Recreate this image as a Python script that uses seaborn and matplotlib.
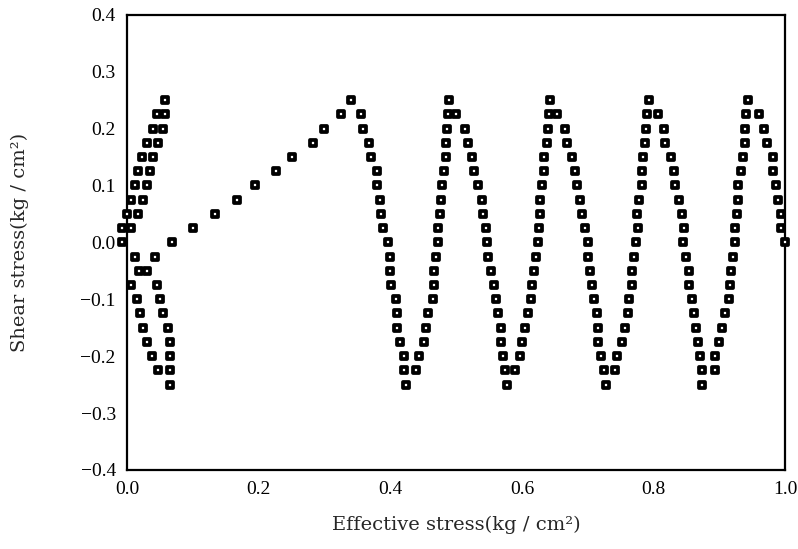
import matplotlib
matplotlib.use("Agg")
import matplotlib.pyplot as plt
from matplotlib.ticker import MultipleLocator, FuncFormatter
import seaborn as sns
import pandas as pd

# ---- data ----
levels_down = [0.225, 0.2, 0.175, 0.15, 0.125, 0.1, 0.075, 0.05, 0.025, 0.0,
               -0.025, -0.05, -0.075, -0.1, -0.125, -0.15, -0.175, -0.2, -0.225, -0.25]
levels_up = [-0.225, -0.2, -0.175, -0.15, -0.125, -0.1, -0.075, -0.05, -0.025, 0.0,
             0.025, 0.05, 0.075, 0.1, 0.125, 0.15, 0.175, 0.2, 0.225, 0.25]

# first loop near the origin
loop0_up_tau = [0.0, 0.025, 0.05, 0.075, 0.1, 0.125, 0.15, 0.175, 0.2, 0.225, 0.25]
loop0_up_sig = [-0.008, -0.008, 0.0, 0.006, 0.012, 0.017, 0.023, 0.030, 0.039, 0.045, 0.058]
loop0_down_tau = [0.225, 0.2, 0.175, 0.15, 0.125, 0.1, 0.075, 0.05, 0.025,
                  -0.025, -0.05, -0.075, -0.1, -0.125, -0.15, -0.175, -0.2, -0.225, -0.25]
loop0_down_sig = [0.058, 0.055, 0.048, 0.039, 0.035, 0.030, 0.025, 0.017, 0.007,
                  0.012, 0.019, 0.007, 0.015, 0.020, 0.025, 0.030, 0.038, 0.048, 0.066]
loop0_back_tau = [-0.225, -0.2, -0.175, -0.15, -0.125, -0.1, -0.075, -0.05, -0.025]
loop0_back_sig = [0.066, 0.066, 0.066, 0.063, 0.055, 0.050, 0.045, 0.031, 0.043]

# long ramp
ramp_tau = [0.0, 0.025, 0.05, 0.075, 0.1, 0.125, 0.15, 0.175, 0.2, 0.225, 0.25]
ramp_sig = [0.068, 0.101, 0.134, 0.168, 0.195, 0.226, 0.251, 0.282, 0.300, 0.325, 0.341]

# cyclic legs (effective stress at each shear level)
down1_sig = [0.355, 0.358, 0.368, 0.371, 0.380, 0.380, 0.385, 0.386, 0.389, 0.397,
             0.399, 0.400, 0.401, 0.409, 0.410, 0.411, 0.415, 0.421, 0.421, 0.424]
up1_sig = [0.439, 0.444, 0.451, 0.455, 0.457, 0.465, 0.466, 0.466, 0.470, 0.472,
           0.472, 0.475, 0.477, 0.479, 0.482, 0.484, 0.484, 0.487, 0.488, 0.490]
down2_sig = [0.500, 0.513, 0.518, 0.524, 0.528, 0.534, 0.539, 0.541, 0.545, 0.547,
             0.548, 0.553, 0.558, 0.560, 0.564, 0.568, 0.568, 0.572, 0.574, 0.577]
up2_sig = [0.590, 0.597, 0.600, 0.604, 0.610, 0.614, 0.615, 0.619, 0.621, 0.624,
           0.626, 0.628, 0.628, 0.630, 0.634, 0.634, 0.638, 0.640, 0.641, 0.643]
down3_sig = [0.654, 0.665, 0.668, 0.676, 0.680, 0.683, 0.688, 0.691, 0.696, 0.700,
             0.700, 0.704, 0.706, 0.709, 0.714, 0.716, 0.716, 0.720, 0.724, 0.728]
up3_sig = [0.742, 0.744, 0.752, 0.756, 0.761, 0.763, 0.767, 0.767, 0.770, 0.773,
           0.776, 0.775, 0.778, 0.782, 0.783, 0.784, 0.787, 0.789, 0.790, 0.793]
down4_sig = [0.807, 0.816, 0.818, 0.827, 0.831, 0.833, 0.839, 0.843, 0.846, 0.845,
             0.850, 0.854, 0.854, 0.858, 0.862, 0.864, 0.867, 0.870, 0.873, 0.874]
up4_sig = [0.893, 0.894, 0.899, 0.904, 0.909, 0.915, 0.916, 0.917, 0.921, 0.923,
           0.923, 0.926, 0.929, 0.929, 0.933, 0.936, 0.939, 0.939, 0.941, 0.944]
last_tau = [0.225, 0.2, 0.175, 0.15, 0.125, 0.1, 0.075, 0.05, 0.025, 0.0]
last_sig = [0.960, 0.967, 0.973, 0.981, 0.982, 0.986, 0.989, 0.993, 0.993, 0.999]

x_ticks = [0.0, 0.2, 0.4, 0.6, 0.8, 1.0]
y_ticks = [-0.4, -0.3, -0.2, -0.1, 0.0, 0.1, 0.2, 0.3, 0.4]

# ---- assemble ----
sig, tau = [], []
for s, t in [(loop0_up_sig, loop0_up_tau), (loop0_down_sig, loop0_down_tau),
             (loop0_back_sig, loop0_back_tau), (ramp_sig, ramp_tau),
             (down1_sig, levels_down), (up1_sig, levels_up),
             (down2_sig, levels_down), (up2_sig, levels_up),
             (down3_sig, levels_down), (up3_sig, levels_up),
             (down4_sig, levels_down), (up4_sig, levels_up),
             (last_sig, last_tau)]:
    sig += list(s)
    tau += list(t)
df = pd.DataFrame({"sigma": sig, "tau": tau})

sns.set_style("white")
plt.rcParams["font.family"] = ["Liberation Serif", "DejaVu Serif"]
plt.rcParams["axes.unicode_minus"] = True

fig = plt.figure(figsize=(7.98, 5.49), dpi=100)
ax = fig.add_axes([0.159, 0.144, 0.825, 0.829])

sns.scatterplot(data=df, x="sigma", y="tau", ax=ax, marker="s", s=20,
                facecolor="white", edgecolor="black", linewidth=2.7,
                clip_on=False, zorder=3, legend=False)

ax.set_xlim(0.0, 1.0)
ax.set_ylim(-0.4, 0.4)
ax.set_xticks(x_ticks)
ax.set_yticks(y_ticks)
ax.xaxis.set_minor_locator(MultipleLocator(0.1))
ax.yaxis.set_minor_locator(MultipleLocator(0.05))
ax.xaxis.set_major_formatter(FuncFormatter(lambda v, p: f"{v:.1f}"))
ax.yaxis.set_major_formatter(FuncFormatter(lambda v, p: f"{v:.1f}".replace("-", "\u2212")))
ax.tick_params(axis="both", which="major", direction="in", length=6, width=1.2,
               labelsize=14, colors="black", pad=8, top=False, right=False)
ax.tick_params(axis="both", which="minor", direction="in", length=3, width=1.0,
               top=False, right=False)
for sp in ax.spines.values():
    sp.set_linewidth(1.6)
    sp.set_color("black")

lab_font = dict(family=["DejaVu Serif"], fontsize=14)
ax.set_xlabel("Effective stress(kg / cm\u00b2)", **lab_font)
ax.set_ylabel("Shear stress(kg / cm\u00b2)", **lab_font)
ax.xaxis.set_label_coords(0.5, -0.1)
ax.yaxis.set_label_coords(-0.162, 0.5)
ax.xaxis.label.set_va("top")
ax.yaxis.label.set_va("center")

fig.savefig("out.png", dpi=100)
